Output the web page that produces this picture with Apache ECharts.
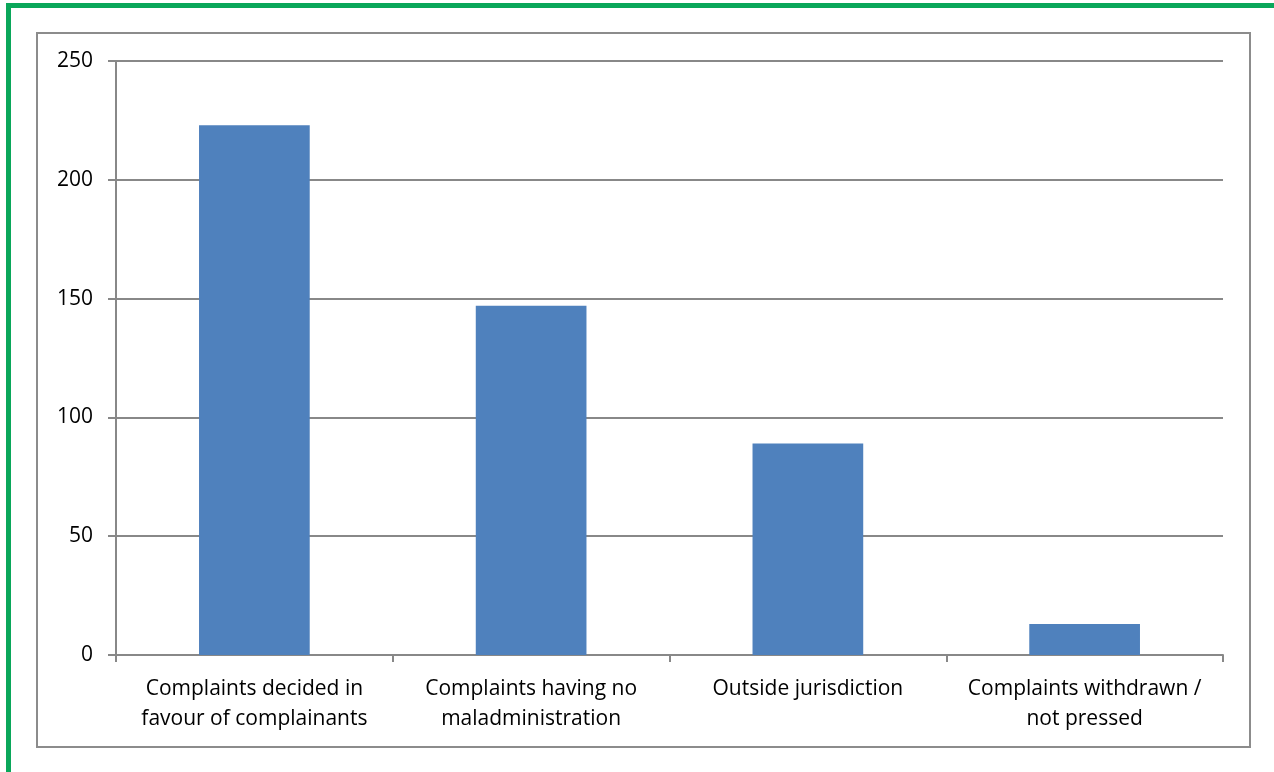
<!DOCTYPE html>
<html><head><meta charset="utf-8">
<script src="https://cdn.jsdelivr.net/npm/echarts@6/dist/echarts.min.js"></script>
<style>
html,body{margin:0;padding:0;background:#fff;}
#frame{position:absolute;left:6px;top:3px;width:1280px;height:800px;border-left:5px solid #0aa75a;border-top:5px solid #0aa75a;}
#box{position:absolute;left:36px;top:32px;width:1211px;height:712px;border:2px solid #8c8c8c;}
#chart{position:absolute;left:0;top:0;width:1274px;height:772px;}
</style></head>
<body>
<div id="frame"></div>
<div id="box"></div>
<div id="chart"></div>
<script>
const categories = ["Complaints decided in\nfavour of complainants","Complaints having no\nmaladministration","Outside jurisdiction","Complaints withdrawn /\nnot pressed"];
const values = [223, 147, 89, 13];
const yTicks = {min:0, max:250, interval:50};
const chart = echarts.init(document.getElementById('chart'), null, {renderer:'canvas'});
chart.setOption({
  animation:false,
  grid:{left:116, right:51, top:61, bottom:117, containLabel:false},
  xAxis:{type:'category', data:categories,
    axisLine:{lineStyle:{color:'#888', width:2}},
    axisTick:{show:true, alignWithLabel:false, length:7, lineStyle:{color:'#888', width:2}},
    axisLabel:{color:'#000', fontFamily:'Open Sans', fontSize:21, lineHeight:30, margin:19, interval:0}},
  yAxis:{type:'value', min:yTicks.min, max:yTicks.max, interval:yTicks.interval,
    axisLine:{show:true, lineStyle:{color:'#888', width:2}},
    axisTick:{show:true, length:8, lineStyle:{color:'#888', width:2}},
    splitLine:{lineStyle:{color:'#888', width:2}},
    axisLabel:{color:'#000', fontFamily:'Open Sans', fontSize:21, margin:23}},
  series:[{type:'bar', data:values, barWidth:'40%', itemStyle:{color:'#4f81bd'}}]
});
</script>
</body></html>
